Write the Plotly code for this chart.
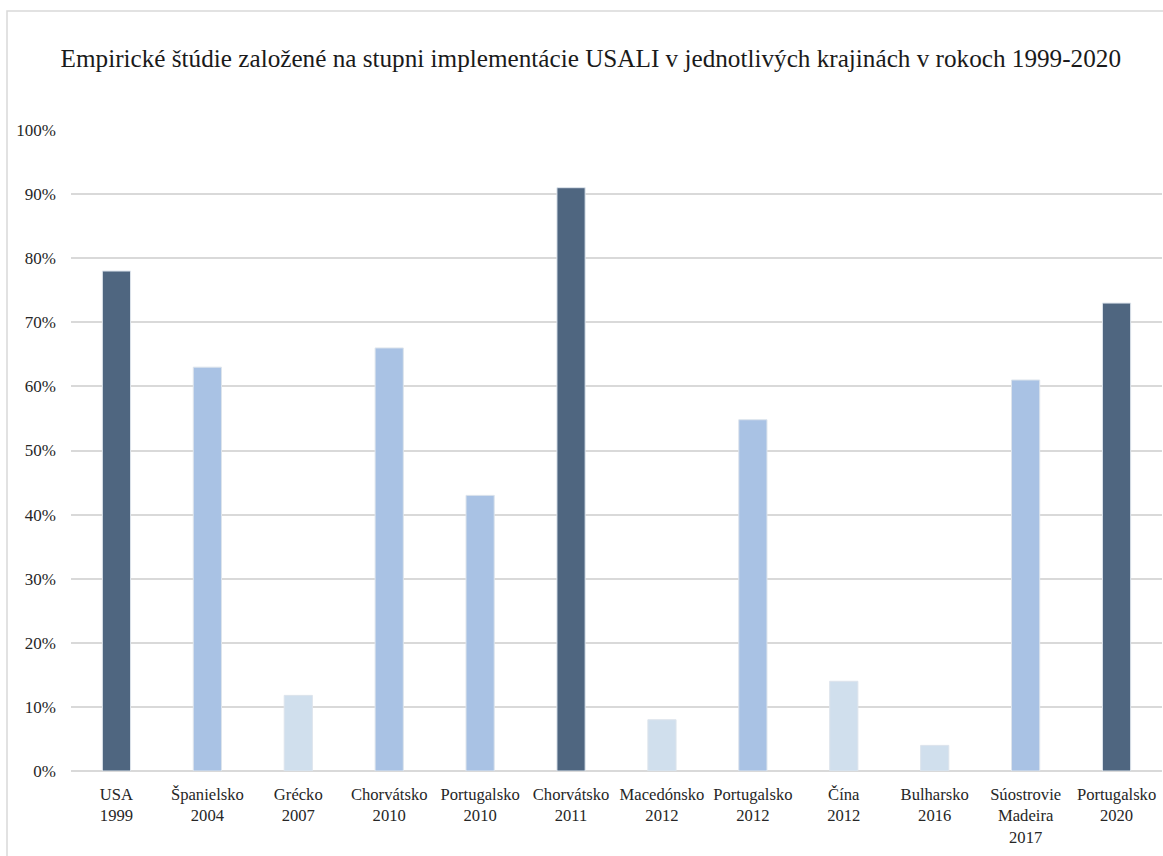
import plotly.graph_objects as go

categories = ["USA<br>1999", "Španielsko<br>2004", "Grécko<br>2007", "Chorvátsko<br>2010",
              "Portugalsko<br>2010", "Chorvátsko<br>2011", "Macedónsko<br>2012", "Portugalsko<br>2012",
              "Čína<br>2012", "Bulharsko<br>2016", "Súostrovie<br>Madeira<br>2017", "Portugalsko<br>2020"]
values = [0.78, 0.63, 0.118, 0.66, 0.43, 0.91, 0.08, 0.548, 0.14, 0.04, 0.61, 0.73]
levels = ["high", "mid", "low", "mid", "mid", "high", "low", "mid", "low", "low", "mid", "high"]
palette = {"high": "#4f6680", "mid": "#a9c2e4", "low": "#d0dfed"}
colors = [palette[l] for l in levels]

fig = go.Figure(go.Bar(
    x=categories, y=values,
    marker=dict(color=colors, line=dict(color="#dde4ec", width=1)),
    width=0.31,
))

W, H = 1163, 856
L, R, T, B = 71, 1, 130, 85
pw, ph = W - L - R, H - T - B

fig.update_layout(
    width=W, height=H,
    margin=dict(l=L, r=R, t=T, b=B),
    paper_bgcolor="white", plot_bgcolor="white",
    showlegend=False,
    font=dict(family="'Liberation Serif', 'Times New Roman', serif", size=16, color="#262626"),
    title=dict(text="Empirické štúdie založené na stupni implementácie USALI v jednotlivých krajinách v rokoch 1999-2020",
               x=0.508, xanchor="center", xref="container",
               y=1 - 58 / H, yanchor="middle", yref="container",
               font=dict(size=25.2, color="#1a1a1a")),
    yaxis=dict(range=[0, 1.0], tickformat=".0%", dtick=0.1, tick0=0,
               showgrid=True, gridcolor="#d9d9d9", gridwidth=1.5,
               zeroline=True, zerolinecolor="#d9d9d9", zerolinewidth=2,
               showline=False, ticks="", ticklabelstandoff=14, fixedrange=True,
               tickfont=dict(size=17)),
    xaxis=dict(showgrid=False, showline=False, ticks="", ticklabelstandoff=11,
               tickangle=0, fixedrange=True, tickfont=dict(size=16.6)),
    shapes=[dict(type="rect", xref="paper", yref="paper",
                 x0=(7 - L) / pw, x1=1.2, y0=-0.5, y1=(H - B - 11) / ph,
                 line=dict(color="#d9d9d9", width=1.5), fillcolor="rgba(0,0,0,0)", layer="below")],
)

fig.write_html("out.html")
